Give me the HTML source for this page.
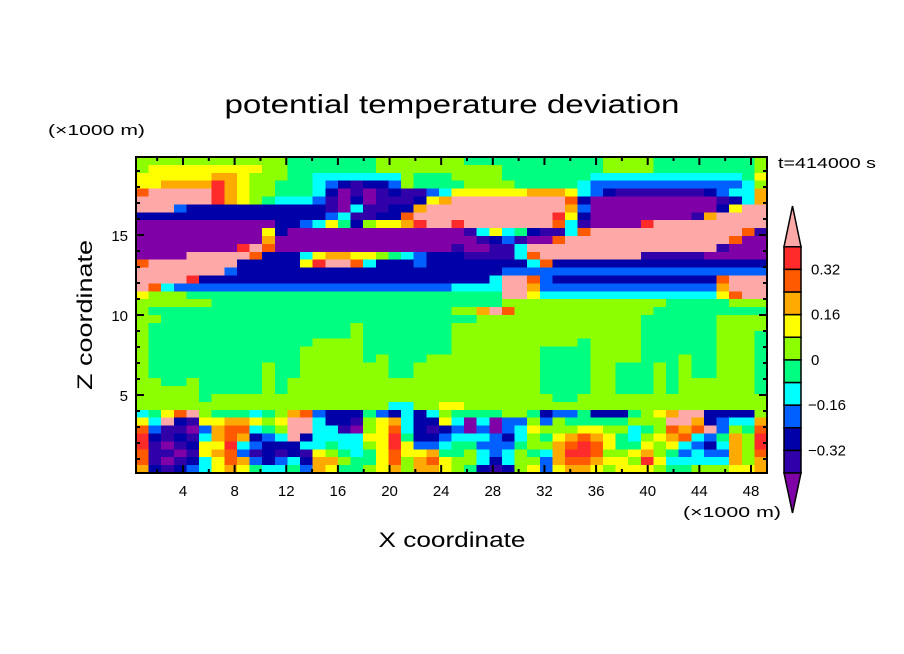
<!DOCTYPE html>
<html><head><meta charset="utf-8"><style>
html,body{margin:0;padding:0;background:#fff;width:904px;height:654px;overflow:hidden}
svg{display:block}
text{font-family:"Liberation Sans",sans-serif;fill:#000}
</style></head><body>
<svg id="chart" width="904" height="654" viewBox="0 0 904 654" xmlns="http://www.w3.org/2000/svg">
<rect width="904" height="654" fill="#fff"/>
<g id="cells" shape-rendering="crispEdges"></g>
<g id="frame"></g>
<g id="axes"></g>
<g id="cbar"></g>
<text x="452" y="113" text-anchor="middle" font-size="26" textLength="455" lengthAdjust="spacingAndGlyphs">potential temperature deviation</text>
<text x="48" y="135" font-size="15" textLength="97" lengthAdjust="spacingAndGlyphs">(×1000 m)</text>
<text x="778" y="168" font-size="15" textLength="98" lengthAdjust="spacingAndGlyphs">t=414000 s</text>
<text transform="translate(92,315) rotate(-90)" text-anchor="middle" font-size="21" textLength="150" lengthAdjust="spacingAndGlyphs">Z coordinate</text>
<text x="452" y="547" text-anchor="middle" font-size="21" textLength="147" lengthAdjust="spacingAndGlyphs">X coordinate</text>
<text x="683" y="517" font-size="15" textLength="98" lengthAdjust="spacingAndGlyphs">(×1000 m)</text>
</svg>
<script>
// ---- data ----
const levelBounds = [-0.32, -0.16, 0, 0.16, 0.32];
const levelColors = ["#8000a8","#3000a8","#0000a8","#0060ff","#00ffff","#00ff80","#8cff00","#ffff00","#ffaa00","#ff5a00","#ff2a2a","#ffa8a8"];
const levelValues = [-0.44,-0.36,-0.28,-0.20,-0.12,-0.04,0.04,0.12,0.20,0.28,0.36,0.44];
const xTicks = [4,8,12,16,20,24,28,32,36,40,44,48];
const zTicks = [5,10,15];
const cbarLabels = ["0.32","0.16","0","\u22120.16","\u22120.32"];
const cbarLabelValues = [0.32,0.16,0,-0.16,-0.32];
// upper field (z from top), one char per column = level index (0..b)
const upperRows = [
"666666666666"+"5555555"+"6666666"+"55555555555"+"6666"+"55555555"+"6",
"6"+"777777777"+"66"+"5555555"+"6666666"+"666"+"55555555"+"6666"+"55555555"+"6",
"777777"+"88"+"7"+"666"+"55"+"4444444"+"6"+"555"+"6666"+"5555555"+"444444444444"+"5"+"7",
"77"+"8888"+"a"+"8"+"7"+"66"+"555"+"4"+"3"+"2"+"1"+"22"+"3"+"6"+"5555"+"6666"+"55555"+"4"+"333333333333"+"4"+"6",
"9"+"bbbbb"+"a"+"8"+"7"+"66"+"555"+"4"+"2"+"0"+"1"+"0"+"1"+"2"+"11"+"3"+"4"+"777777"+"888"+"7"+"4"+"3"+"2"+"1111111"+"2"+"3"+"44"+"8",
"bbbbbb"+"a"+"8"+"7"+"6"+"5"+"444"+"3"+"1"+"0"+"2"+"0"+"111"+"2"+"7"+"8"+"bbbbbbbbb"+"9"+"2"+"0000000000"+"1"+"2"+"4"+"8",
"bbb"+"3"+"222222"+"2"+"2222"+"1"+"0"+"4"+"11"+"22"+"8"+"bbb"+"bbbbbbbb"+"8"+"3"+"0000000000"+"2"+"7"+"bb",
"22222222222222"+"2"+"3"+"4"+"11"+"22"+"9"+"bbb"+"bbbbbbbb"+"a"+"7"+"2"+"00000000"+"1"+"8"+"bbbb",
"00000000000"+"22"+"3"+"4"+"7"+"5"+"2"+"6"+"77"+"8"+"a"+"bb"+"a"+"bbbbbbb"+"9"+"4"+"1"+"0000"+"a"+"bbbbbbbbb",
"0000000000"+"7"+"2"+"00000000000000"+"1"+"4"+"7"+"4"+"5"+"2"+"11"+"4"+"9"+"bbbbbbbbbbbb"+"9"+"1",
"0000000000"+"8"+"000000000000000"+"0"+"1"+"2"+"3"+"1"+"00"+"9"+"bbbbbbbbbbbbb"+"9"+"00",
"00000000"+"a"+"b"+"9"+"00000000000000"+"1"+"00"+"11"+"4"+"bbbbbbbbbbbbbbb"+"1"+"000",
"0000"+"bbbbb"+"9"+"222"+"4"+"7"+"88"+"77"+"6"+"5"+"4"+"3"+"222"+"1111"+"4"+"9"+"bbbbbbbb"+"11111"+"00000",
"9"+"bbbbbbb"+"22222"+"7"+"a"+"bb"+"9"+"4"+"222"+"3"+"222"+"22222"+"4"+"9"+"22222222222222222",
"bbbbbbb3"+"222222222222222222222"+"333333333333333333333",
"bbbba"+"222222222222222222222"+"22"+"4"+"bb"+"9"+"3"+"2222222222222"+"9"+"bbb",
"b94"+"3333333333333333333333"+"4444"+"bb"+"8"+"33333333333333"+"8bbb",
"7666"+"5555555555555555555555"+"555"+"bb7"+"44444444444444"+"79bb",
"666666"+"55555555555555555555"+"555"+"6666666666666"+"55555666",
"6"+"555555555555555555555555"+"668b9"+"66666666666"+"555555555"
];
// lower field (rows 20..39), one string per column, top to bottom
const lowerCols = [
"666666666666"+"479aa998","655555556666"+"54321112","555555555666"+"7b110101","555555555666"+"92121012",
"555555556666"+"b1012123","555555555556"+"67347744","555555555566"+"57887877","555555555566"+"5899a998",
"555555555566"+"58984387","555555555566"+"47423135","555555666666"+"56532224","555555555566"+"67642134",
"555555556666"+"8bbb2245","555566666666"+"9bb24123","555666666666"+"34444788","555666666666"+"22445687",
"555666666666"+"22144565","566666666666"+"21044455","555555666666"+"56676556","555556666666"+"37777777",
"555555556664"+"289aa998","555555556664"+"44457766","555555666666"+"22223788","555556666666"+"42123898",
"555556666667"+"67234577","566666666667"+"54345566","566666666666"+"50045665","666666666666"+"54343442",
"666666666666"+"50033321","666666666666"+"63323442","666666666666"+"63445666","666666666666"+"56766567",
"666655555566"+"23656433","666655555556"+"36678887","666655555556"+"35689a98","666555555566"+"5579aa98",
"666666666666"+"25789987","666666666666"+"25677676","666666555566"+"25655677","666666555566"+"56445767",
"555555555566"+"665678a7","555555666666"+"76676676","555555555566"+"8b987545","555556666666"+"bb894345",
"555555556666"+"b8943446","555555556666"+"22b32346","666666666666"+"23354346","666666666666"+"24688887",
"666666666666"+"24566667","665555555566"+"689aa988"
];
// ---- scales ----
const NS="http://www.w3.org/2000/svg";
const X0=136, X1=767, Y0=157, Y1=473;
const xMin=0.36, xMax=49.24, zMin=0.125, zMax=19.875;
const xs = v => X0 + (v-xMin)/(xMax-xMin)*(X1-X0);
const zs = v => Y1 - (v-zMin)/(zMax-zMin)*(Y1-Y0);
function colorFor(v){ let i=0; while(i<levelBounds.length*2+1 && v>levelEdge(i)) i++; return levelColors[i]; }
function levelEdge(i){ return -0.40+0.08*i; }
const NC=50, NR=40;
const field=[];
for(let r=0;r<NR;r++){ const row=[]; for(let c=0;c<NC;c++){
  let ch;
  if(r<20){ ch=(upperRows[r][c]||upperRows[r][upperRows[r].length-1]); }
  else { const s=lowerCols[c]||lowerCols[NC-1]; ch=s[r-20]||s[s.length-1]; }
  row.push(levelValues[parseInt(ch,16)]);
 } field.push(row); }
const dx=(xMax-xMin)/NC, dz=(zMax-zMin)/NR;
const gCells=document.getElementById('cells');
for(let r=0;r<NR;r++) for(let c=0;c<NC;c++){
  const v=field[r][c];
  const xa=xs(xMin+c*dx), xb=xs(xMin+(c+1)*dx);
  const za=zs(zMax-r*dz), zb=zs(zMax-(r+1)*dz);
  const rc=document.createElementNS(NS,'rect');
  rc.setAttribute('x',xa.toFixed(2)); rc.setAttribute('y',za.toFixed(2));
  rc.setAttribute('width',(xb-xa+0.6).toFixed(2)); rc.setAttribute('height',(zb-za+0.6).toFixed(2));
  rc.setAttribute('fill',colorFor(v));
  
  
  gCells.appendChild(rc);
}
// ---- frame & ticks ----
const gF=document.getElementById('frame');
function line(g,x1,y1,x2,y2,w){const l=document.createElementNS(NS,'line');l.setAttribute('x1',x1);l.setAttribute('y1',y1);l.setAttribute('x2',x2);l.setAttribute('y2',y2);l.setAttribute('stroke','#000');l.setAttribute('stroke-width',w||1.5);g.appendChild(l);return l;}
const fr=document.createElementNS(NS,'rect');
fr.setAttribute('x',X0);fr.setAttribute('y',Y0);fr.setAttribute('width',X1-X0);fr.setAttribute('height',Y1-Y0);
fr.setAttribute('fill','none');fr.setAttribute('stroke','#000');fr.setAttribute('stroke-width','2');
gF.appendChild(fr);
const gA=document.getElementById('axes');
for(let v=2; v<=48; v+=2){ const x=xs(v); const major=(v%4===0); const L=major?8:4;
  const t1=line(gA,x,Y1,x,Y1-L,2);  
  const t2=line(gA,x,Y0,x,Y0+L,2);   }
for(let v=1; v<=19; v++){ const y=zs(v); const major=(v%5===0); const L=major?8:4;
  const t1=line(gA,X0,y,X0+L,y,2);  
  const t2=line(gA,X1,y,X1-L,y,2);   }
xTicks.forEach(v=>{ const t=document.createElementNS(NS,'text'); t.setAttribute('x',xs(v)); t.setAttribute('y',496);
  t.setAttribute('text-anchor','middle'); t.setAttribute('font-size','15'); t.textContent=v;
  
  
  gA.appendChild(t); });
zTicks.forEach(v=>{ const t=document.createElementNS(NS,'text'); t.setAttribute('x',128); t.setAttribute('y',zs(v)+6);
  t.setAttribute('text-anchor','end'); t.setAttribute('font-size','15'); t.textContent=v;
  
  
  gA.appendChild(t); });
// ---- colorbar ----
const gC=document.getElementById('cbar');
const CX0=784, CX1=801, CT=246.7, CB=473, tipT=206, tipB=513;
const cbScale = v => CB - (v-(-0.40))/0.80*(CB-CT);
for(let i=1;i<=10;i++){
  const ya=cbScale(levelEdge(i)), yb=cbScale(levelEdge(i-1));
  const rc=document.createElementNS(NS,'rect');
  rc.setAttribute('x',CX0);rc.setAttribute('y',ya);rc.setAttribute('width',CX1-CX0);rc.setAttribute('height',yb-ya);
  rc.setAttribute('fill',levelColors[i]);rc.setAttribute('stroke','#000');rc.setAttribute('stroke-width','1.5');
  
  
  gC.appendChild(rc);
}
const up=document.createElementNS(NS,'polygon');
up.setAttribute('points',`${CX0},${CT} ${CX1},${CT} ${(CX0+CX1)/2},${tipT}`);
up.setAttribute('fill',levelColors[11]);up.setAttribute('stroke','#000');up.setAttribute('stroke-width','1.5');


gC.appendChild(up);
const dn=document.createElementNS(NS,'polygon');
dn.setAttribute('points',`${CX0},${CB} ${CX1},${CB} ${(CX0+CX1)/2},${tipB}`);
dn.setAttribute('fill',levelColors[0]);dn.setAttribute('stroke','#000');dn.setAttribute('stroke-width','1.5');


gC.appendChild(dn);
cbarLabels.forEach((s,i)=>{ const t=document.createElementNS(NS,'text');
  t.setAttribute('x',s.startsWith('\u2212')?808:811); t.setAttribute('y',cbScale(cbarLabelValues[i])+5);
  t.setAttribute('font-size','15'); t.textContent=s;
  
  
  gC.appendChild(t); });
</script>
</body></html>
